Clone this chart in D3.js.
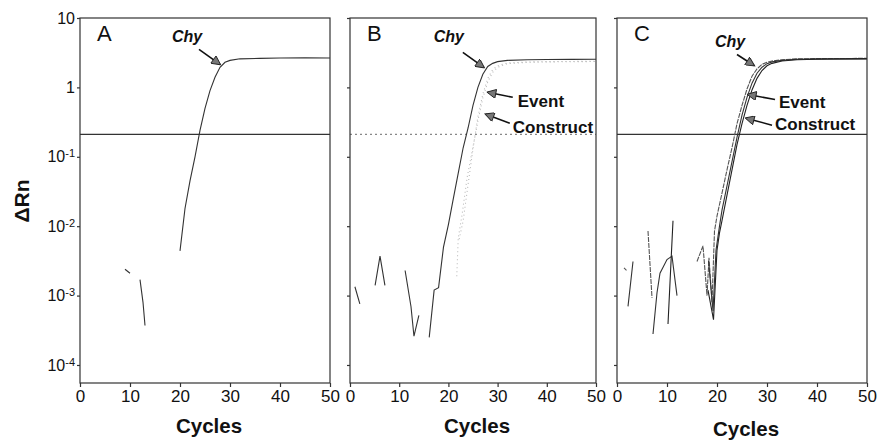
<!DOCTYPE html>
<html>
<head>
<meta charset="utf-8">
<script src="https://cdn.jsdelivr.net/npm/d3@7"></script>
<style>
  body { margin: 0; background: #fff; }
  text { font-family: "Liberation Sans", Arial, sans-serif; fill: #111; }
</style>
</head>
<body>
<svg id="chart" width="879" height="442"></svg>
<script>
const xTicks = [0, 10, 20, 30, 40, 50];
const yTicks = [1e-4, 1e-3, 1e-2, 1e-1, 1, 10];
const yTickBase = ["10", "10", "10", "10", "1", "10"];
const yTickExp = ["-4", "-3", "-2", "-1", "", ""];
const threshold = 0.21;

// [cycle, ΔRn]; a null value breaks the line (values <= 0 not drawn on log axis)
const chyA = [[9, 0.0024], [10, 0.0021], [11, null], [12, 0.0017], [12.6, 0.0008], [13, 0.00037], [14, null],
  [20, 0.0044], [21, 0.018], [22, 0.045], [23, 0.1], [24, 0.24], [25, 0.5], [26, 0.9], [27, 1.4], [28, 1.95],
  [29, 2.3], [30, 2.45], [32, 2.58], [36, 2.62], [40, 2.65], [45, 2.66], [50, 2.65]];

const chyB = [[1, 0.00134], [2, 0.00076], [3, null], [5.1, 0.0014], [6.1, 0.0037], [7.1, 0.0014], [8, null],
  [11.2, 0.0023], [12.4, 0.00069], [13, 0.00026], [14, 0.00052], [15, null],
  [16.1, 0.00025], [17.1, 0.0012], [18, 0.0013], [19, 0.005], [20, 0.0105], [21, 0.025], [22, 0.058],
  [23, 0.135], [24, 0.26], [25, 0.55], [26, 1.0], [27, 1.55], [28, 2.0], [29, 2.22], [30, 2.35], [32, 2.45],
  [36, 2.5], [40, 2.52], [45, 2.53], [50, 2.55]];
const eventB = [[22.2, 0.0065], [23, 0.012], [24, 0.04], [25, 0.13], [26, 0.38], [27, 0.8], [28, 1.35],
  [29, 1.8], [30, 2.05], [32, 2.25], [36, 2.32], [40, 2.35], [50, 2.38]];
const constructB = [[21.7, 0.0019], [22, 0.0067], [22.8, 0.015], [23.8, 0.05], [25, 0.14], [26, 0.33],
  [27, 0.7], [28, 1.2], [29, 1.65], [30, 1.95], [32, 2.2], [36, 2.3], [40, 2.33], [50, 2.36]];

const chyC = [[1.4, 0.0025], [1.9, 0.0023], [2.5, null], [6.2, 0.0085], [7, 0.00093], [8, null],
  [16, 0.0031], [17.2, 0.0052], [18, 0.001], [18.4, 0.0035], [19, 0.0008], [19.5, 0.0085], [20, 0.014],
  [21, 0.03], [22, 0.065], [23, 0.135], [24, 0.3], [25, 0.55], [26, 0.95], [27, 1.45], [28, 1.85],
  [29, 2.15], [30, 2.3], [31, 2.4], [33, 2.5], [36, 2.58], [40, 2.6], [50, 2.62]];
const eventC = [[2.2, 0.0007], [3.2, 0.0031], [4, null], [7.2, 0.00028], [8, 0.0011], [8.6, 0.0021],
  [10, 0.0033], [11, 0.0037], [12, 0.001], [13, null], [18.3, 0.0032], [19.2, 0.0006], [19.8, 0.0045],
  [20.5, 0.01], [21, 0.017], [22, 0.038], [23, 0.085], [24, 0.19], [25, 0.4], [26, 0.72], [27, 1.15],
  [28, 1.6], [29, 1.95], [30, 2.2], [31, 2.33], [33, 2.45], [36, 2.55], [40, 2.58], [50, 2.6]];
const constructC = [[10.2, 0.00039], [11.2, 0.012], [12, null], [18.2, 0.0012], [19.3, 0.00045],
  [20, 0.0045], [20.5, 0.008], [21, 0.012], [22, 0.028], [23, 0.065], [24, 0.15], [25, 0.3], [26, 0.55],
  [27, 0.92], [28, 1.35], [29, 1.75], [30, 2.05], [31, 2.22], [33, 2.4], [36, 2.5], [40, 2.55], [50, 2.58]];

const plotTop = 18, plotBottom = 383;
const y = d3.scaleLog().domain([5.5e-5, 10]).range([plotBottom, plotTop]);

const panels = [
  { name: "A", x0: 80, x1: 330, yLabels: true, thrDash: null, thrColor: "#333",
    series: [{ data: chyA, color: "#333", dash: null }],
    notes: [{ text: "Chy", italic: true, cycle: 28, value: 2.15, tx: -21, ty: -15, lx: -33, ly: -22, anchor: "middle" }] },
  { name: "B", x0: 350, x1: 596, yLabels: false, thrDash: "2,3", thrColor: "#888",
    series: [{ data: eventB, color: "#bbb", dash: "1,3" }, { data: constructB, color: "#bbb", dash: "1,3" },
      { data: chyB, color: "#333", dash: null }],
    notes: [{ text: "Chy", italic: true, cycle: 27.2, value: 1.94, tx: -21, ty: -15, lx: -35, ly: -25, anchor: "middle" },
      { text: "Event", italic: false, cycle: 28, value: 0.85, tx: 25, ty: 5, lx: 30, ly: 15, anchor: "start" },
      { text: "Construct", italic: false, cycle: 27.6, value: 0.41, tx: 24, ty: 9, lx: 27, ly: 19, anchor: "start" }] },
  { name: "C", x0: 617, x1: 867, yLabels: false, thrDash: null, thrColor: "#333",
    series: [{ data: chyC, color: "#555", dash: "5,1" }, { data: eventC, color: "#333", dash: null },
      { data: constructC, color: "#222", dash: null }],
    notes: [{ text: "Chy", italic: true, cycle: 27.4, value: 2.07, tx: -17, ty: -11, lx: -24, ly: -18, anchor: "middle" },
      { text: "Event", italic: false, cycle: 26.2, value: 0.79, tx: 27, ty: 5, lx: 31, ly: 13, anchor: "start" },
      { text: "Construct", italic: false, cycle: 25.8, value: 0.36, tx: 26, ty: 7, lx: 29, ly: 12, anchor: "start" }] }
];

const svg = d3.select("#chart");

svg.append("defs").append("marker")
  .attr("id", "head")
  .attr("viewBox", "0 0 10 10")
  .attr("refX", 9).attr("refY", 5)
  .attr("markerWidth", 11).attr("markerHeight", 9)
  .attr("markerUnits", "userSpaceOnUse")
  .attr("orient", "auto")
  .append("path")
  .attr("d", "M0,0 L10,5 L0,10 Z")
  .attr("fill", "#777").attr("stroke", "#222").attr("stroke-width", 1);

panels.forEach(p => {
  const x = d3.scaleLinear().domain([0, 50]).range([p.x0, p.x1]);
  const g = svg.append("g");

  const line = d3.line()
    .defined(d => d[1] != null)
    .x(d => x(d[0]))
    .y(d => y(d[1]));

  // threshold line
  g.append("line")
    .attr("x1", p.x0).attr("x2", p.x1)
    .attr("y1", y(threshold)).attr("y2", y(threshold))
    .attr("stroke", p.thrColor).attr("stroke-width", 1.2)
    .attr("stroke-dasharray", p.thrDash);

  p.series.forEach(s => {
    g.append("path")
      .datum(s.data)
      .attr("d", line)
      .attr("fill", "none")
      .attr("stroke", s.color)
      .attr("stroke-width", 1.1)
      .attr("stroke-dasharray", s.dash);
  });

  // frame
  g.append("rect")
    .attr("x", p.x0).attr("y", plotTop)
    .attr("width", p.x1 - p.x0).attr("height", plotBottom - plotTop)
    .attr("fill", "none").attr("stroke", "#333").attr("stroke-width", 1.2);

  // x axis
  const xa = g.append("g")
    .attr("transform", `translate(0,${plotBottom})`)
    .call(d3.axisBottom(x).tickValues(xTicks).tickSize(4).tickSizeOuter(0).tickPadding(3));
  xa.select(".domain").remove();
  xa.selectAll("line").attr("stroke", "#333").attr("stroke-width", 1.2);
  xa.selectAll("text").style("font-size", "17px").attr("fill", "#111");

  // y axis
  const ya = g.append("g")
    .attr("transform", `translate(${p.x0},0)`)
    .call(d3.axisLeft(y).tickValues(yTicks).tickSize(3).tickSizeOuter(0).tickPadding(2).tickFormat(() => ""));
  ya.select(".domain").remove();
  ya.selectAll("line").attr("stroke", "#333").attr("stroke-width", 1.2);
  if (p.yLabels) {
    ya.selectAll("text")
      .style("font-size", "16px")
      .attr("fill", "#111")
      .each(function (d, i) {
        const t = d3.select(this);
        t.append("tspan").text(yTickBase[i]);
        if (yTickExp[i]) {
          t.append("tspan").attr("dy", "-0.45em").style("font-size", "11px").text(yTickExp[i]);
        }
      });
  }

  // panel letter
  g.append("text")
    .attr("x", p.x0 + 17).attr("y", 41)
    .style("font-size", "22px")
    .text(p.name);

  // annotations
  p.notes.forEach(n => {
    const px = x(n.cycle), py = y(n.value);
    g.append("line")
      .attr("x1", px + n.tx).attr("y1", py + n.ty)
      .attr("x2", px).attr("y2", py)
      .attr("stroke", "#111").attr("stroke-width", 1.6)
      .attr("marker-end", "url(#head)");
    g.append("text")
      .attr("x", px + n.lx).attr("y", py + n.ly)
      .attr("text-anchor", n.anchor)
      .style("font-size", n.italic ? "16px" : "17px")
      .style("font-weight", "bold")
      .style("font-style", n.italic ? "italic" : "normal")
      .text(n.text);
  });

  // x title
  g.append("text")
    .attr("x", (p.x0 + p.x1) / 2 + 4)
    .attr("y", p.name === "C" ? 436 : 433)
    .attr("text-anchor", "middle")
    .style("font-size", "20.5px")
    .style("font-weight", "bold")
    .text("Cycles");
});

svg.append("text")
  .attr("transform", "translate(29,201) rotate(-90)")
  .attr("text-anchor", "middle")
  .style("font-size", "21px")
  .style("font-weight", "bold")
  .text("ΔRn");
</script>
</body>
</html>
